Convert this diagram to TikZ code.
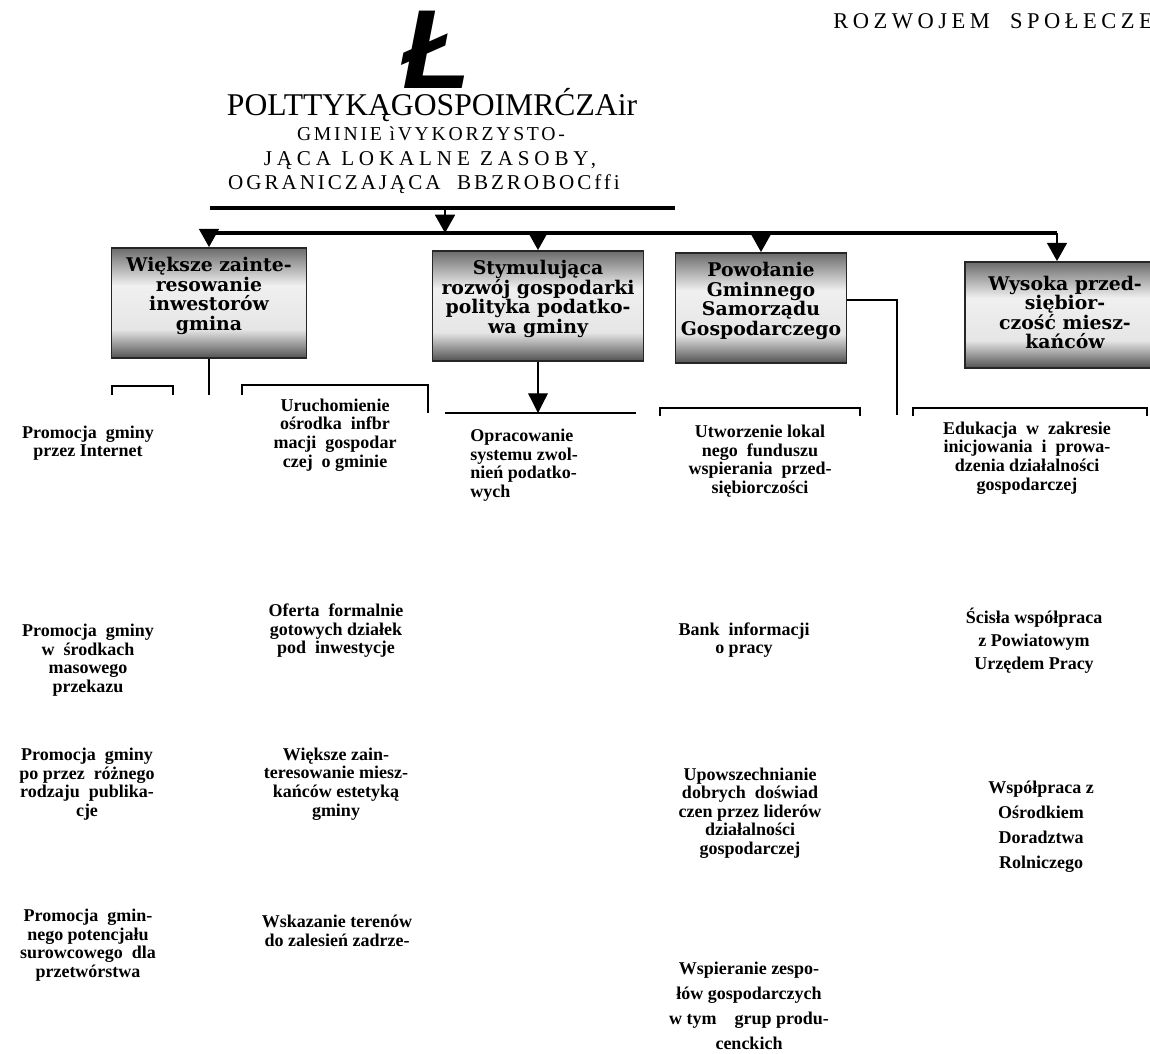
\documentclass[tikz,border=0pt]{standalone}
\usepackage{fontspec}
\setmainfont{Liberation Serif}
\newfontfamily\boxfont{DejaVu Serif}
\newfontfamily\markfont{Liberation Sans}
\usetikzlibrary{arrows.meta,calc}

\newcommand{\pxu}{0.025cm}
\newcommand{\itemsize}{\fontsize{12.8}{13.2}\selectfont\bfseries}
\pgfdeclareverticalshading{goalshade}{100bp}{color(0bp)=(black!68); color(25bp)=(black!68); color(38bp)=(white!90!black); color(58bp)=(white!94!black); color(75bp)=(black!58); color(100bp)=(black!58)}

\begin{document}
\begin{tikzpicture}[
    x=\pxu, y=-\pxu,
    goal/.style={rectangle, draw=black!85, line width=1.3pt, shading=goalshade, align=center, inner sep=0pt, text depth=13pt, font=\boxfont\fontsize{13.4}{13.8}\selectfont\bfseries},
    item/.style={align=center, inner sep=0pt, font=\itemsize},
    itemwide/.style={item, font=\fontsize{12.8}{#1}\selectfont\bfseries},
    bus/.style={line width=2.4pt},
    down/.style={line width=2pt, -{Triangle[width=14pt,length=13pt]}},
    frame/.style={line width=0.9pt}
]
\useasboundingbox (0,0) rectangle (1150,1053);

% Heading
\node[anchor=base west, inner sep=0pt, font=\fontsize{16}{16}\selectfont\addfontfeature{LetterSpace=20}] (head) at (833,28) {ROZWOJEM\ \ SPOŁECZE};
\node[anchor=base, inner sep=0pt, font=\markfont\fontsize{80}{80}\selectfont\bfseries\itshape] (bigL) at (437,88) {Ł};

% Title
\node[anchor=base, inner sep=0pt, font=\fontsize{22.5}{22.5}\selectfont] (t1) at (432,115) {POLTTYKĄGOSPOIMRĆZAir};
\node[anchor=base, inner sep=0pt, font=\fontsize{14}{14}\selectfont\addfontfeature{LetterSpace=14}] (t2) at (431,140) {GMINIE ìVYKORZYSTO-};
\node[anchor=base, inner sep=0pt, font=\fontsize{15}{15}\selectfont\addfontfeature{LetterSpace=23}] (t3) at (430,165) {JĄCA LOKALNE ZASOBY,};
\node[anchor=base, inner sep=0pt, font=\fontsize{15}{15}\selectfont\addfontfeature{LetterSpace=14}] (t4) at (424,189) {OGRANICZAJĄCA\ \ BBZROBOCffi};

\coordinate (ulL) at (210,208);
\coordinate (ulR) at (675,208);
\coordinate (ulM) at (445,208);
\coordinate (busL) at (208,233);
\coordinate (busR) at (1057,233);
\draw[bus] (ulL) -- (ulR);
\draw[down] (ulM) -- (ulM |- busL);
\draw[bus] (busL) -- (busR);

% Goals
\node[goal, minimum width=195*\pxu, minimum height=110*\pxu] (g1) at (209,303) {Większe zainte-\\resowanie\\inwestorów\\gmina};
\node[goal, minimum width=211*\pxu, minimum height=110*\pxu] (g2) at (538,306) {Stymulująca\\rozwój gospodarki\\polityka podatko-\\wa gminy};
\node[goal, minimum width=171*\pxu, minimum height=110*\pxu] (g3) at (761,308) {Powołanie\\Gminnego\\Samorządu\\Gospodarczego};
\node[goal, text depth=4pt, minimum width=200*\pxu, minimum height=106*\pxu] (g4) at (1065,315) {Wysoka przed-\\siębior-\\czość miesz-\\kańców};

\draw[down] (g1.north |- busL) -- (g1.north);
\draw[down] (g2.north |- busL) -- (g2.north);
\draw[down] (g3.north |- busL) -- (g3.north);
\draw[down] (busR) -- (busR |- g4.north);

% Frames under the goals
\coordinate (s1) at (209,395);
\coordinate (o1L) at (445,413);
\coordinate (o1R) at (636,413);
\coordinate (k3) at (897,415);
\draw[frame] (g1.south) -- (s1);
\draw[frame] (112,395) -- (112,386) -- (173,386) -- (173,395);
\draw[frame] (242,395) -- (242,385) -- (428,385) -- (428,413);
\draw[line width=1.6pt] (o1L) -- (o1R);
\draw[frame, -{Triangle[width=14pt,length=14pt]}] (g2.south) -- (g2.south |- o1L);
\draw[frame] (660,416) -- (660,408) -- (860,408) -- (860,416);
\draw[frame] ($(g3.east)+(0,-8)$) -| (k3);
\draw[frame] (913,416) -- (913,408) -- (1147,408) -- (1147,416);

% Column 1
\node[item] (p1) at (88,443) {Promocja~ gminy\\przez Internet};
\node[item] (p2) at (88,660) {Promocja~ gminy\\w~ środkach\\masowego\\przekazu};
\node[item] (p3) at (87,784) {Promocja~ gminy\\po przez~ różnego\\rodzaju~ publika-\\cje};
\node[item] (p4) at (88,945) {Promocja~ gmin-\\nego potencjału\\surowcowego~ dla\\przetwórstwa};

% Column 2
\node[item] (u1) at (335,435) {Uruchomienie\\ośrodka~ infbr\\macji~ gospodar\\czej~ o gminie};
\node[item] (u2) at (336,631) {Oferta~ formalnie\\gotowych działek\\pod~ inwestycje};
\node[item] (u3) at (336,784) {Większe zain-\\teresowanie miesz-\\kańców estetyką\\gminy};
\node[item] (u4) at (337,931) {Wskazanie terenów\\do zalesień zadrze-};

% Column 3
\node[item, align=left, anchor=west] (o1) at (470,465) {Opracowanie\\systemu zwol-\\nień podatko-\\wych};

% Column 4
\node[item] (f1) at (760,461) {Utworzenie lokal\\nego~ funduszu\\wspierania~ przed-\\siębiorczości};
\node[item] (f2) at (744,640) {Bank~ informacji\\o pracy};
\node[item] (f3) at (750,813) {Upowszechnianie\\dobrych~ doświad\\czen przez liderów\\działalności\\gospodarczej};
\node[itemwide=17.8pt] (f4) at (749,1006) {Wspieranie zespo-\\łów gospodarczych\\w tym~ ~ grup produ-\\cenckich};

% Column 5
\node[item] (e1) at (1027,458) {Edukacja~ w~ zakresie\\inicjowania~ i~ prowa-\\dzenia działalności\\gospodarczej};
\node[itemwide=16.4pt] (e2) at (1034,641) {Ścisła współpraca\\z Powiatowym\\Urzędem Pracy};
\node[itemwide=17.8pt] (e3) at (1041,827) {Współpraca z\\Ośrodkiem\\Doradztwa\\Rolniczego};

\end{tikzpicture}
\end{document}
